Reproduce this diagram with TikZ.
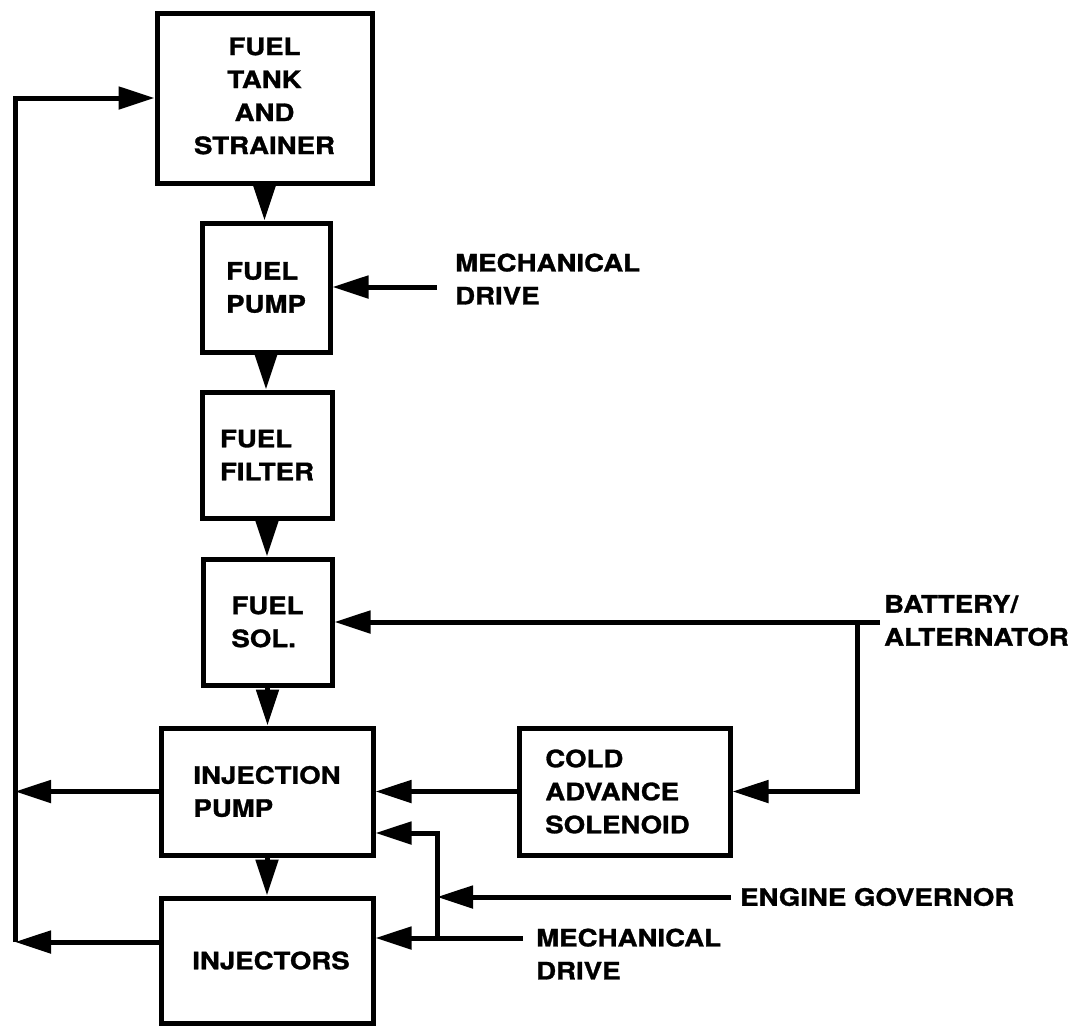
\documentclass[tikz,border=0pt]{standalone}
\usepackage{fontspec}
\setmainfont{TeX Gyre Heros}[FakeStretch=1.15, BoldFeatures={FakeBold=1.2}]
\usepackage{tikz}
\usetikzlibrary{arrows.meta, positioning, calc}

\begin{document}
\begin{tikzpicture}[x=1pt, y=-1pt,
    box/.style={rectangle, draw=black, line width=5pt, align=left, inner sep=0pt,
      font=\fontsize{24}{33}\selectfont\bfseries},
    lbl/.style={anchor=west, align=left, inner sep=0pt, font=\fontsize{24}{33}\selectfont\bfseries},
    flow/.style={line width=5pt, -{Triangle[length=36pt, width=22pt]}},
    drop/.style={line width=5pt, -{Triangle[length=36pt, width=22pt]}, shorten <=-2pt}]
\useasboundingbox (0,0) rectangle (1088,1026);
% blocks
\node[box, minimum width=215pt, minimum height=170pt] (tank) at (264.5,98)
  {\raisebox{-22pt}{\begin{tabular}{@{}c@{}}FUEL\\TANK\\AND\\STRAINER\end{tabular}}};
\node[box, minimum width=128pt, minimum height=129pt] (pump) at (266,287.5) {FUEL\\PUMP};
\node[box, minimum width=130pt, minimum height=126pt] (filter) at (267,455) {FUEL\\FILTER};
\node[box, minimum width=129pt, minimum height=126pt] (sol) at (267.5,622) {FUEL\\SOL.};
\node[box, minimum width=212pt, minimum height=127pt] (injpump) at (267,791.5) {INJECTION\\PUMP\hspace*{14pt}};
\node[box, minimum width=212pt, minimum height=125pt] (injectors) at (267,960.5) {\hspace*{8pt}INJECTORS};
\node[box, minimum width=211pt, minimum height=127pt] (cold) at (624.5,791.5) {COLD\\ADVANCE\\SOLENOID\hspace*{14pt}};
% outside inputs
\node[lbl] (mech1) at (455,279) {MECHANICAL\\DRIVE};
\node[lbl] (batt) at (884,620.5) {BATTERY/\\ALTERNATOR};
\node[lbl] (gov) at (740,897) {ENGINE GOVERNOR};
\node[lbl] (mech2) at (536,954) {MECHANICAL\\DRIVE};
% line ends and corners
\coordinate (retTop) at (15,98);
\coordinate (retBot) at (15,942);
\coordinate (m1) at (437,287);
\coordinate (bat) at (880,622);
\coordinate (batdrop) at (857,622);
\coordinate (govend) at (731,897);
\coordinate (m2) at (523,938);
\coordinate (jn) at (437,938);
\coordinate (jt) at (437,833);
% fuel path
\draw[drop] (tank.south) -- (tank.south |- pump.north);
\draw[drop] (pump.south) -- (pump.south |- filter.north);
\draw[drop] (filter.south) -- (filter.south |- sol.north);
\draw[drop] (sol.south) -- (sol.south |- injpump.north);
\draw[drop] (injpump.south) -- (injectors.north);
% return line
\draw[flow] (retBot) -- (retTop) -- (tank.west);
\draw[flow] (injpump.west) -- (injpump.west -| retTop);
\draw[flow] (injectors.west |- retBot) -- (retBot);
% drives and signals
\draw[flow] (m1) -- (m1 -| pump.east);
\draw[flow] (bat) -- (sol.east |- bat);
\draw[flow] (batdrop) |- (cold.east);
\draw[flow] (cold.west) -- (injpump.east);
\draw[flow] (govend) -- (govend -| jn);
\draw[flow] (m2) -- (m2 -| injectors.east);
\draw[flow] (jn) -- (jt) -- (jt -| injpump.east);
\end{tikzpicture}
\end{document}
